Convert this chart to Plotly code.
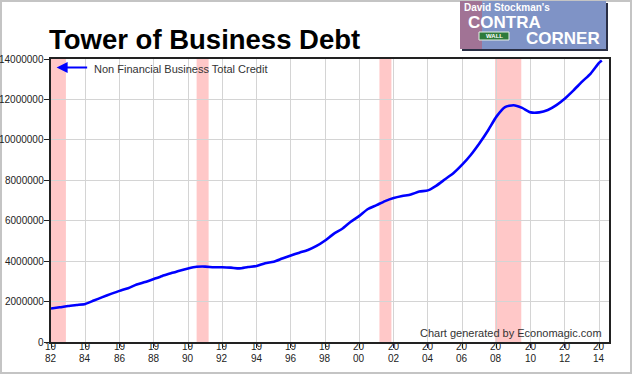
import plotly.graph_objects as go

# ---------------- data ----------------
years = [1982.0, 1982.5, 1983.0, 1983.5, 1984.0, 1984.5, 1985.0, 1985.5, 1986.0, 1986.5,
         1987.0, 1987.5, 1988.0, 1988.5, 1989.0, 1989.5, 1990.0, 1990.5, 1991.0, 1991.5,
         1992.0, 1992.5, 1993.0, 1993.5, 1994.0, 1994.5, 1995.0, 1995.5, 1996.0, 1996.5,
         1997.0, 1997.5, 1998.0, 1998.5, 1999.0, 1999.5, 2000.0, 2000.5, 2001.0, 2001.5,
         2002.0, 2002.5, 2003.0, 2003.5, 2004.0, 2004.5, 2005.0, 2005.5, 2006.0, 2006.5,
         2007.0, 2007.5, 2008.0, 2008.5, 2009.0, 2009.5, 2010.0, 2010.5, 2011.0, 2011.5,
         2012.0, 2012.5, 2013.0, 2013.5, 2014.0, 2014.15]
credit = [1660000, 1715000, 1780000, 1830000, 1880000, 2050000, 2220000, 2380000, 2530000, 2660000,
          2840000, 2970000, 3120000, 3270000, 3400000, 3530000, 3640000, 3720000, 3730000, 3700000,
          3700000, 3680000, 3640000, 3710000, 3760000, 3900000, 3970000, 4130000, 4280000, 4420000,
          4550000, 4750000, 5020000, 5350000, 5600000, 5950000, 6240000, 6580000, 6770000, 6970000,
          7120000, 7220000, 7300000, 7440000, 7500000, 7740000, 8050000, 8360000, 8770000, 9250000,
          9820000, 10450000, 11150000, 11620000, 11710000, 11580000, 11360000, 11360000, 11480000, 11720000,
          12050000, 12450000, 12880000, 13280000, 13820000, 13930000]

recession_start = [1982.0, 1990.5, 2001.17, 2007.92]
recession_end = [1982.87, 1991.2, 2001.87, 2009.45]

x_tickvals = list(range(1982, 2015, 2))
x_tick_century = [str(y)[:2] for y in x_tickvals]
x_tick_year = [str(y)[2:] for y in x_tickvals]
y_tickvals = list(range(0, 14000001, 2000000))
y_ticktext = [str(v) for v in y_tickvals]

title_text = "Tower of Business Debt"
series_name = "Non Financial Business Total Credit"
credit_text = "Chart generated by Economagic.com"

# ---------------- layout geometry ----------------
W, H = 633, 375
L, R, T, B = 51, 609, 59, 342
FONT = "Liberation Sans, Arial, sans-serif"


def px(xp):
    return (xp - L) / (R - L)


def py(yp):
    return (B - yp) / (B - T)


fig = go.Figure()
fig.add_trace(go.Scatter(x=years, y=credit, mode="lines",
                         line=dict(color="#0000ff", width=2.6, shape="spline", smoothing=0.6),
                         name=series_name, showlegend=False, hoverinfo="x+y"))

shapes = []
for s, e in zip(recession_start, recession_end):
    shapes.append(dict(type="rect", xref="x", yref="paper", x0=s, x1=e, y0=0, y1=1,
                       fillcolor="#ffc8c8", line=dict(width=0), layer="below"))

# outer frame
shapes.append(dict(type="rect", xref="paper", yref="paper",
                   x0=px(1), x1=px(631), y0=py(373), y1=py(1),
                   line=dict(color="#c4c4c4", width=2), fillcolor="rgba(0,0,0,0)"))

# logo block
shapes.append(dict(type="rect", xref="paper", yref="paper",
                   x0=px(462), x1=px(608), y0=py(51), y1=py(3),
                   line=dict(width=0), fillcolor="#2a2f45"))
shapes.append(dict(type="rect", xref="paper", yref="paper",
                   x0=px(460), x1=px(606), y0=py(49), y1=py(1),
                   line=dict(width=0), fillcolor="#7f93c6"))
shapes.append(dict(type="rect", xref="paper", yref="paper",
                   x0=px(460), x1=px(482), y0=py(49), y1=py(1),
                   line=dict(width=0), fillcolor="rgba(190,90,110,0.55)"))
shapes.append(dict(type="rect", xref="paper", yref="paper",
                   x0=px(479), x1=px(509), y0=py(40), y1=py(32),
                   line=dict(color="#e8f0e8", width=1), fillcolor="#2f7a3c"))

annotations = [
    dict(text=f"<b>{title_text}</b>", x=px(47), y=py(40), xref="paper", yref="paper",
         xanchor="left", yanchor="middle", showarrow=False,
         font=dict(family=FONT, size=27.5, color="#000000")),
    # legend arrow
    dict(text="", x=1982.33, y=13580000, xref="x", yref="y", ax=32, ay=0,
         showarrow=True, arrowhead=2, arrowsize=1.1, arrowwidth=2, arrowcolor="#0000ff"),
    dict(text=series_name, x=px(92), y=py(68.5), xref="paper", yref="paper",
         xanchor="left", yanchor="middle", showarrow=False,
         font=dict(family=FONT, size=11, color="#333333")),
    dict(text=credit_text, x=px(604), y=py(333), xref="paper", yref="paper",
         xanchor="right", yanchor="middle", showarrow=False,
         font=dict(family=FONT, size=11, color="#333333")),
    # logo text
    dict(text="<b>David Stockman's</b>", x=px(463), y=py(7), xref="paper", yref="paper",
         xanchor="left", yanchor="middle", showarrow=False, borderpad=0,
         font=dict(family=FONT, size=10, color="#ffffff")),
    dict(text="<b>CONTRA</b>", x=px(467), y=py(23), xref="paper", yref="paper",
         xanchor="left", yanchor="middle", showarrow=False, borderpad=0,
         font=dict(family=FONT, size=17, color="#ffffff")),
    dict(text="<b>CORNER</b>", x=px(601), y=py(39), xref="paper", yref="paper",
         xanchor="right", yanchor="middle", showarrow=False, borderpad=0,
         font=dict(family=FONT, size=17, color="#ffffff")),
    dict(text="<b>WALL</b>", x=px(494), y=py(36), xref="paper", yref="paper",
         xanchor="center", yanchor="middle", showarrow=False, borderpad=0,
         font=dict(family=FONT, size=6, color="#ffffff")),
]

# two-line x tick labels (century over year), tightly stacked
for xv, c, yr in zip(x_tickvals, x_tick_century, x_tick_year):
    annotations.append(dict(text=c, x=xv, y=py(346.6), xref="x", yref="paper",
                            xanchor="center", yanchor="middle", showarrow=False, borderpad=0,
                            font=dict(family=FONT, size=10, color="#222222")))
    annotations.append(dict(text=yr, x=xv, y=py(358.2), xref="x", yref="paper",
                            xanchor="center", yanchor="middle", showarrow=False, borderpad=0,
                            font=dict(family=FONT, size=10, color="#222222")))

# y tick labels, right-aligned next to the ticks
for yv, t in zip(y_tickvals, y_ticktext):
    annotations.append(dict(text=t, x=px(45), y=yv, xref="paper", yref="y",
                            xanchor="right", yanchor="middle", showarrow=False, borderpad=0,
                            font=dict(family=FONT, size=10, color="#222222")))

fig.update_layout(
    width=W, height=H,
    margin=dict(l=L, r=W - R, t=T, b=H - B, pad=0, autoexpand=False),
    paper_bgcolor="#ffffff", plot_bgcolor="#ffffff",
    shapes=shapes, annotations=annotations,
    showlegend=False,
    font=dict(family=FONT, size=11, color="#222222"),
    xaxis=dict(range=[1982, 2014.57], tickvals=x_tickvals, showticklabels=False,
               automargin=False,
               showgrid=True, gridcolor="#d4d4d4", gridwidth=1, zeroline=False,
               showline=True, linecolor="#222222", linewidth=2, mirror=True,
               ticks="outside", ticklen=4, tickcolor="#222222", tickwidth=1),
    yaxis=dict(range=[0, 14000000], tickvals=y_tickvals, showticklabels=False,
               automargin=False,
               showgrid=True, gridcolor="#d4d4d4", gridwidth=1, zeroline=False,
               showline=True, linecolor="#222222", linewidth=2, mirror=True,
               ticks="outside", ticklen=5, tickcolor="#222222", tickwidth=1),
)

fig.write_html("out.html")
